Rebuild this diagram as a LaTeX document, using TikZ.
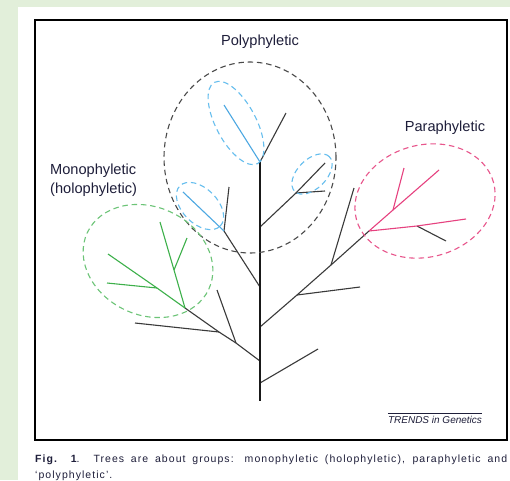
\documentclass[tikz,border=0pt]{standalone}
\usepackage{fontspec}
\setmainfont{Liberation Sans}
\newfontfamily\capfont[LetterSpace=10]{Liberation Sans}
\begin{document}
\definecolor{pagebg}{HTML}{E2EFDA}
\definecolor{inktext}{HTML}{1E1E3A}
\definecolor{branch}{HTML}{3A3A3A}
\definecolor{cladeblue}{HTML}{4DA8E2}
\definecolor{cladegreen}{HTML}{3DB04A}
\definecolor{cladepink}{HTML}{E6417F}
\definecolor{ringblue}{HTML}{66BEEE}
\definecolor{ringgreen}{HTML}{6CC477}
\definecolor{ringpink}{HTML}{E8568C}
\definecolor{ringgrey}{HTML}{4A4A4A}
\begin{tikzpicture}[x=1pt,y=-1pt,
  limb/.style={draw=branch,line width=1.1pt},
  stem/.style={draw=black!90,line width=1.5pt},
  bluelimb/.style={draw=cladeblue,line width=1.1pt},
  greenlimb/.style={draw=cladegreen,line width=1.1pt},
  pinklimb/.style={draw=cladepink,line width=1.1pt},
  ring/.style={line width=1.1pt,dash pattern=on 5.5pt off 3.8pt},
  label/.style={inner sep=0pt,text=inktext,font=\fontsize{14.6}{19}\selectfont}]
% page background and white panel
\fill[pagebg] (0,0) rectangle (510,480);
\fill[white] (18,7) rectangle (510,480);
\useasboundingbox (0,0) rectangle (510,480);
% figure frame
\draw[line width=1.5pt] (35,20) rectangle (507,440);

% tree vertices
\coordinate (T0) at (260,162);
\coordinate (T1) at (260,227);
\coordinate (T2) at (260,287);
\coordinate (T3) at (260,327);
\coordinate (T4) at (260,361);
\coordinate (T5) at (260,383);
\coordinate (Tb) at (260,401);
% crown
\coordinate (topblue) at (224,105);
\coordinate (topblack) at (286,113);
% upper right fork
\coordinate (F1) at (296,193);
\coordinate (F1a) at (325,163);
\coordinate (F1b) at (325,191);
% upper left fork
\coordinate (A) at (224,231);
\coordinate (Ablue) at (183,192);
\coordinate (Ablack) at (229,187);
% lower right limb
\coordinate (R1) at (297,295);
\coordinate (R1a) at (360,287);
\coordinate (R2) at (331,265);
\coordinate (R2a) at (354,188);
\coordinate (P0) at (369,231);
\coordinate (Pa) at (393,210);
\coordinate (Pa1) at (439,170);
\coordinate (Pa2) at (404,168);
\coordinate (Pb) at (417,226);
\coordinate (Pb1) at (466,219);
\coordinate (Pb2) at (446,241);
% lower left limb
\coordinate (C2) at (236,343);
\coordinate (C2a) at (217,290);
\coordinate (C1) at (219,332);
\coordinate (C1a) at (135,323);
\coordinate (G0) at (185,308);
\coordinate (Ga) at (157,288);
\coordinate (Ga1) at (108,254);
\coordinate (Ga2) at (107,283);
\coordinate (Gb) at (174,270);
\coordinate (Gb1) at (160,222);
\coordinate (Gb2) at (187,238);
% bottom twig
\coordinate (Bt) at (318,349);

% black branches
\path[limb] (T0) -- (topblack);
\path[limb] (T1) -- (F1) -- (F1a);
\path[limb] (F1) -- (F1b);
\path[limb] (T2) -- (A) -- (Ablack);
\path[limb] (T3) -- (R1) -- (R2) -- (P0);
\path[limb] (R1) -- (R1a);
\path[limb] (R2) -- (R2a);
\path[limb] (Pb) -- (Pb2);
\path[limb] (T4) -- (C2) -- (C1) -- (G0);
\path[limb] (C2) -- (C2a);
\path[limb] (C1) -- (C1a);
\path[limb] (T5) -- (Bt);
% trunk
\path[stem] (T0) -- (Tb);

% coloured clades
\path[bluelimb] (T0) -- (topblue);
\path[bluelimb] (A) -- (Ablue);
\path[greenlimb] (G0) -- (Ga) -- (Ga1);
\path[greenlimb] (Ga) -- (Ga2);
\path[greenlimb] (G0) -- (Gb) -- (Gb1);
\path[greenlimb] (Gb) -- (Gb2);
\path[pinklimb] (P0) -- (Pa) -- (Pa1);
\path[pinklimb] (Pa) -- (Pa2);
\path[pinklimb] (P0) -- (Pb) -- (Pb1);

% group outlines
\draw[ring,ringgrey] (250,157.5) ellipse [x radius=86pt, y radius=95.5pt];
\draw[ring,ringblue,rotate around={-62:(236,123)}] (236,123) ellipse [x radius=46pt, y radius=20pt];
\draw[ring,ringblue,rotate around={-45:(200,206)}] (200,206) ellipse [x radius=28.5pt, y radius=17.5pt];
\draw[ring,ringblue,rotate around={45:(312,174)}] (312,174) ellipse [x radius=24.5pt, y radius=14.5pt];
\draw[ring,ringgreen,rotate around={-25:(148,261)}] (148,261) ellipse [x radius=67pt, y radius=54pt];
\draw[ring,ringpink,rotate around={15:(425,201)}] (425,201) ellipse [x radius=71pt, y radius=56pt];

% group names
\node[label] (poly) at (260,42) {Polyphyletic};
\node[label] (para) at (445,128) {Paraphyletic};
\node[label,anchor=west,align=left] (mono) at (50,180.5) {Monophyletic\\(holophyletic)};

% journal mark
\node[inner sep=0pt,text=inktext,font=\fontsize{10}{12}\selectfont\itshape] (trends) at (435,420) {TRENDS in Genetics};
\draw[line width=0.8pt,inktext] ([yshift=3pt]trends.north west) -- ([yshift=3pt]trends.north east);

% caption
\node[anchor=north west,inner sep=0pt,text=inktext,align=left,
      font=\capfont\fontsize{10.5}{15.5}\selectfont] (caption) at (35,455)
  {\makebox[472pt][s]{\textbf{Fig. 1}. Trees are about groups: monophyletic (holophyletic), paraphyletic and}\\‘polyphyletic’.};
\end{tikzpicture}
\end{document}
